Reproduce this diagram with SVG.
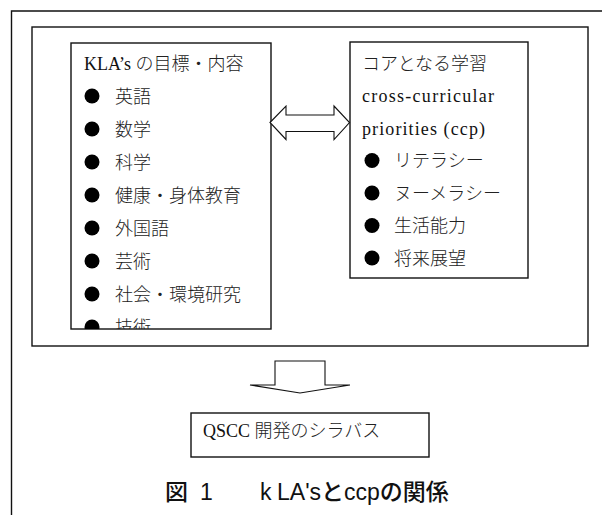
<svg xmlns="http://www.w3.org/2000/svg" width="602" height="515" viewBox="0 0 602 515">
<style>
.ln{fill:none;stroke:#111;stroke-width:1.4}
.box{fill:#fff;stroke:#111;stroke-width:1.4}
.arr{fill:#fff;stroke:#111;stroke-width:1.1;stroke-linejoin:miter}
.t{font-family:"Liberation Serif","Noto Sans CJK JP",serif;font-size:18px;fill:#111}
.j{font-family:"Noto Sans CJK JP","Liberation Serif",serif;font-size:18px;fill:#222;font-weight:300}
.cap{font-family:"Liberation Sans","Noto Sans CJK JP",sans-serif;font-size:23px;fill:#111;font-weight:500}
</style>
<defs>
<circle id="b" r="7.5" fill="#000"/>
<clipPath id="clipL"><rect x="71" y="43" width="200" height="286"/></clipPath>
</defs>
<rect width="602" height="515" fill="#fff"/>
<g id="frame">
<path class="ln" d="M11.5,515 V11 H602"/>
<rect class="ln" x="32" y="27" width="556" height="319"/>
</g>
<g id="kla">
<rect class="box" x="71" y="43" width="200" height="286"/>
<g clip-path="url(#clipL)">
<text class="t" x="84" y="69.5">KLA’s <tspan class="j">の目標・内容</tspan></text>
<use href="#b" x="92" y="96"/><text class="j" x="115" y="102.5">英語</text>
<use href="#b" x="92" y="129"/><text class="j" x="115" y="135.5">数学</text>
<use href="#b" x="92" y="162"/><text class="j" x="115" y="168.5">科学</text>
<use href="#b" x="92" y="195"/><text class="j" x="115" y="201.5">健康・身体教育</text>
<use href="#b" x="92" y="228"/><text class="j" x="115" y="234.5">外国語</text>
<use href="#b" x="92" y="261"/><text class="j" x="115" y="267.5">芸術</text>
<use href="#b" x="92" y="294"/><text class="j" x="115" y="300.5">社会・環境研究</text>
<use href="#b" x="92" y="327"/><text class="j" x="115" y="333.5">技術</text>
</g>
</g>
<g id="ccp">
<rect class="box" x="350" y="42" width="178" height="236"/>
<text class="j" x="362" y="69.5">コアとなる学習</text>
<text class="t" x="362" y="102" font-size="19" textLength="132">cross-curricular</text>
<text class="t" x="362" y="134.5" font-size="19" textLength="123">priorities (ccp)</text>
<use href="#b" x="372" y="160.5"/><text class="j" x="394" y="167">リテラシー</text>
<use href="#b" x="372" y="193"/><text class="j" x="394" y="199.5">ヌーメラシー</text>
<use href="#b" x="372" y="225.5"/><text class="j" x="394" y="232">生活能力</text>
<use href="#b" x="372" y="258"/><text class="j" x="394" y="264.5">将来展望</text>
</g>
<g id="connectors">
<polygon class="arr" points="270,122.5 286,106 286,115 334,115 334,106 349.5,122.5 334,139.5 334,131.5 286,131.5 286,139.5"/>
<polygon class="arr" points="275,361 325,361 325,385 350,385 300,393 250,385 275,385"/>
</g>
<g id="qscc">
<rect class="box" x="191" y="413" width="238" height="44"/>
<text class="t" x="203" y="437">QSCC <tspan class="j">開発のシラバス</tspan></text>
</g>
<g id="caption">
<text class="cap" y="500"><tspan x="165">図</tspan><tspan x="200">1</tspan><tspan x="260">k</tspan><tspan x="277">LA's</tspan><tspan>とccpの関係</tspan></text>
</g>
</svg>
